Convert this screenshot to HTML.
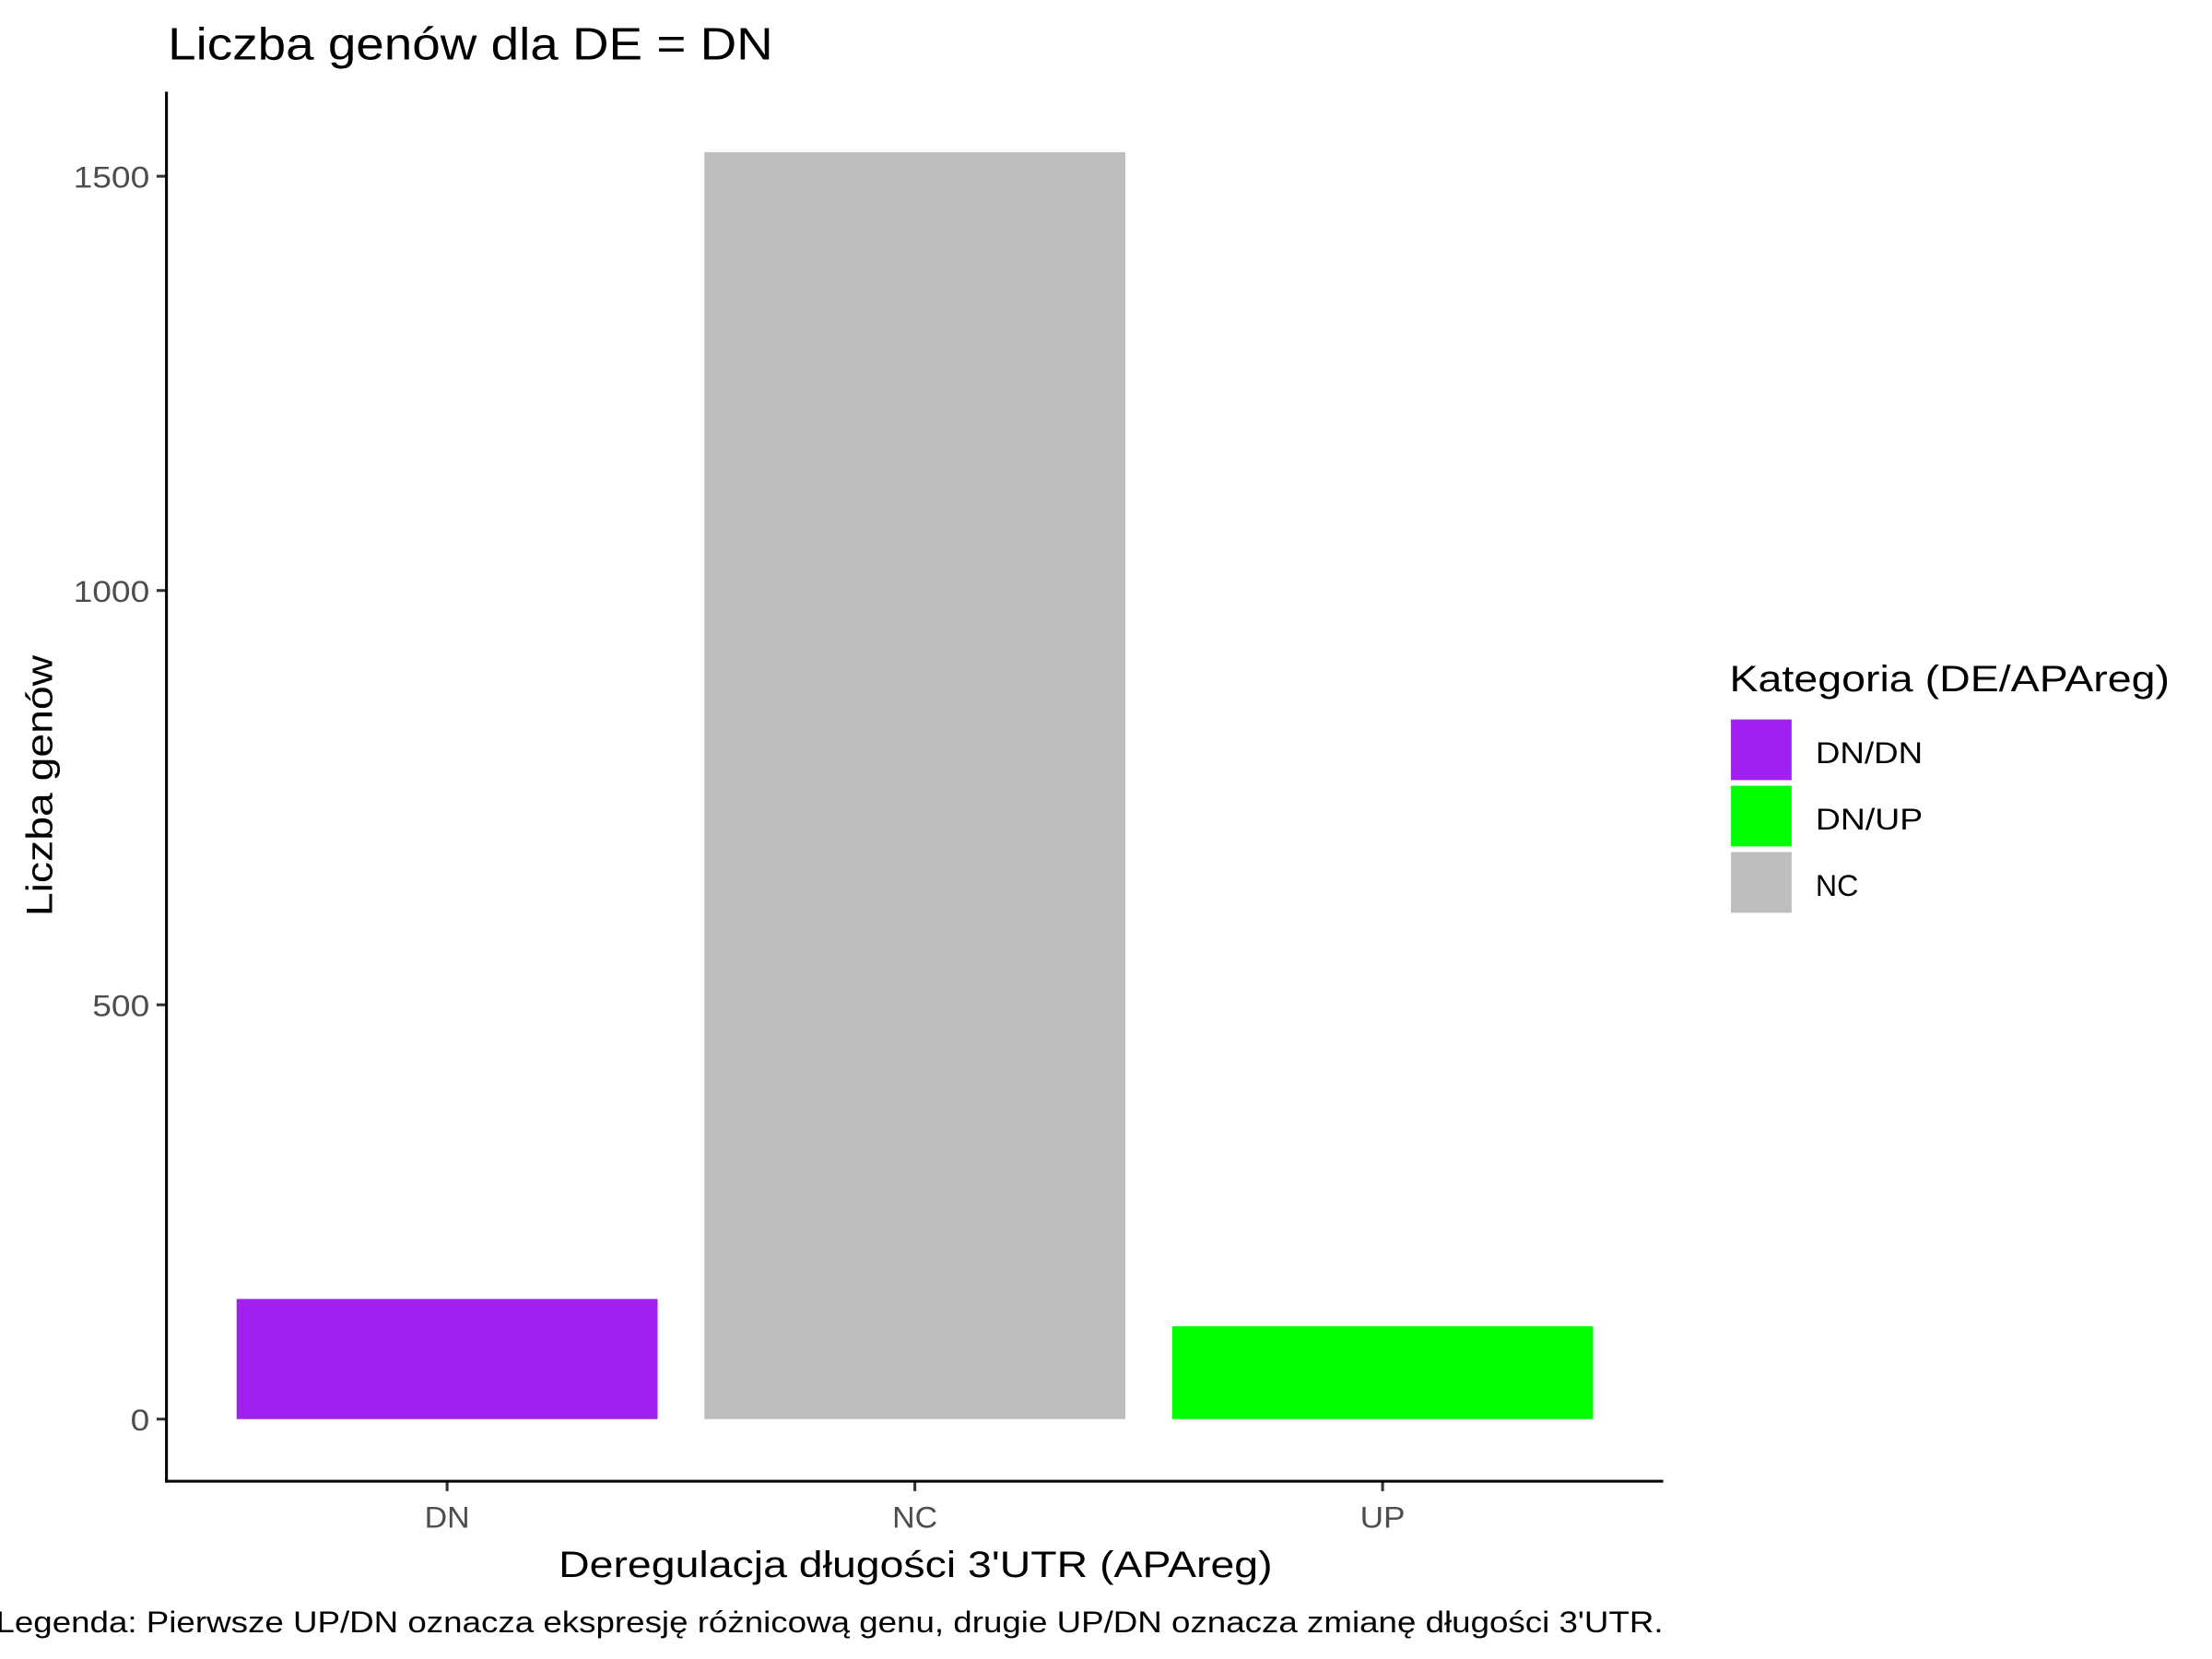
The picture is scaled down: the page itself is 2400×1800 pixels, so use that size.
<!DOCTYPE html>
<html><head><meta charset="utf-8"><style>html,body{margin:0;padding:0;background:#fff}svg{display:block}text{font-family:"Liberation Sans",sans-serif}</style></head>
<body>
<svg id="chart" width="2400" height="1800" viewBox="0 0 1568 1176" xmlns="http://www.w3.org/2000/svg">
<rect width="1568" height="1176" fill="#fff"/>
<text x="119" y="42" font-size="32" fill="#000" textLength="429" lengthAdjust="spacingAndGlyphs">Liczba genów dla DE = DN</text>
<g id="plot"></g>
<text transform="translate(37,557) rotate(-90)" text-anchor="middle" font-size="26" fill="#000" textLength="185" lengthAdjust="spacingAndGlyphs">Liczba genów</text>
<text x="649" y="1118" text-anchor="middle" font-size="26" fill="#000" textLength="506" lengthAdjust="spacingAndGlyphs">Deregulacja długości 3'UTR (APAreg)</text>
<text x="-3" y="1157" font-size="21" fill="#000" textLength="1182" lengthAdjust="spacingAndGlyphs">Legenda: Pierwsze UP/DN oznacza ekspresję różnicową genu, drugie UP/DN oznacza zmianę długości 3'UTR.</text>
<g id="legend">
<text x="1226" y="490" font-size="26" fill="#000" textLength="312" lengthAdjust="spacingAndGlyphs">Kategoria (DE/APAreg)</text>
</g>
</svg>
<script>
const categories = ["DN", "NC", "UP"];
const values = [145, 1529, 112];
const barColors = ["#A020F0", "#BEBEBE", "#00FF00"];
const yTicks = [0, 500, 1000, 1500];
const legendLabels = ["DN/DN", "DN/UP", "NC"];
const legendColors = ["#A020F0", "#00FF00", "#BEBEBE"];

const NS = "http://www.w3.org/2000/svg";
const plot = document.getElementById('plot');
const X0 = 118, X1 = 1179, YT = 65, YB = 1050;
const yMin = -75, yMax = 1602;
const y = v => YB - (v - yMin) / (yMax - yMin) * (YB - YT);
const band = (X1 - X0) / (categories.length + 0.2);
const xc = i => X0 + band * 0.6 + band * i;
const bw = band * 0.9;
function mk(tag, attrs, parent) { const e = document.createElementNS(NS, tag); for (const k in attrs) e.setAttribute(k, attrs[k]); (parent || plot).appendChild(e); return e; }

categories.forEach((c, i) => {
  const r = mk('rect', { x: xc(i) - bw / 2, y: y(values[i]), width: bw, height: y(0) - y(values[i]), fill: barColors[i] });
  
  
  const t = mk('line', { x1: xc(i), x2: xc(i), y1: YB, y2: YB + 7, stroke: '#333', 'stroke-width': 2 });
  
  
  const l = mk('text', { x: xc(i), y: 1083, 'text-anchor': 'middle', 'font-size': 21, fill: '#4d4d4d', textLength: 16 * c.length, lengthAdjust: 'spacingAndGlyphs' });
  l.textContent = c;
  
  
});
yTicks.forEach(v => {
  const t = mk('line', { x1: X0 - 7, x2: X0, y1: y(v), y2: y(v), stroke: '#333', 'stroke-width': 2 });
  
  
  const s = String(v);
  const l = mk('text', { x: X0 - 12, y: y(v) + 8, 'text-anchor': 'end', 'font-size': 21, fill: '#4d4d4d', textLength: 13.5 * s.length, lengthAdjust: 'spacingAndGlyphs' });
  l.textContent = s;
  
  
});
const ya = mk('line', { x1: X0, x2: X0, y1: YT, y2: YB + 1, stroke: '#000', 'stroke-width': 2 });


const xa = mk('line', { x1: X0 - 1, x2: X1, y1: YB, y2: YB, stroke: '#000', 'stroke-width': 2 });



const lg = document.getElementById('legend');
legendLabels.forEach((lab, i) => {
  const top = 510 + i * 47;
  const k = mk('rect', { x: 1227, y: top, width: 43, height: 43, fill: legendColors[i] }, lg);
  
  
  const t = mk('text', { x: 1287, y: top + 31, 'font-size': 21, fill: '#000', textLength: 15.2 * lab.length, lengthAdjust: 'spacingAndGlyphs' }, lg);
  t.textContent = lab;
  
  
});
</script>
</body></html>
